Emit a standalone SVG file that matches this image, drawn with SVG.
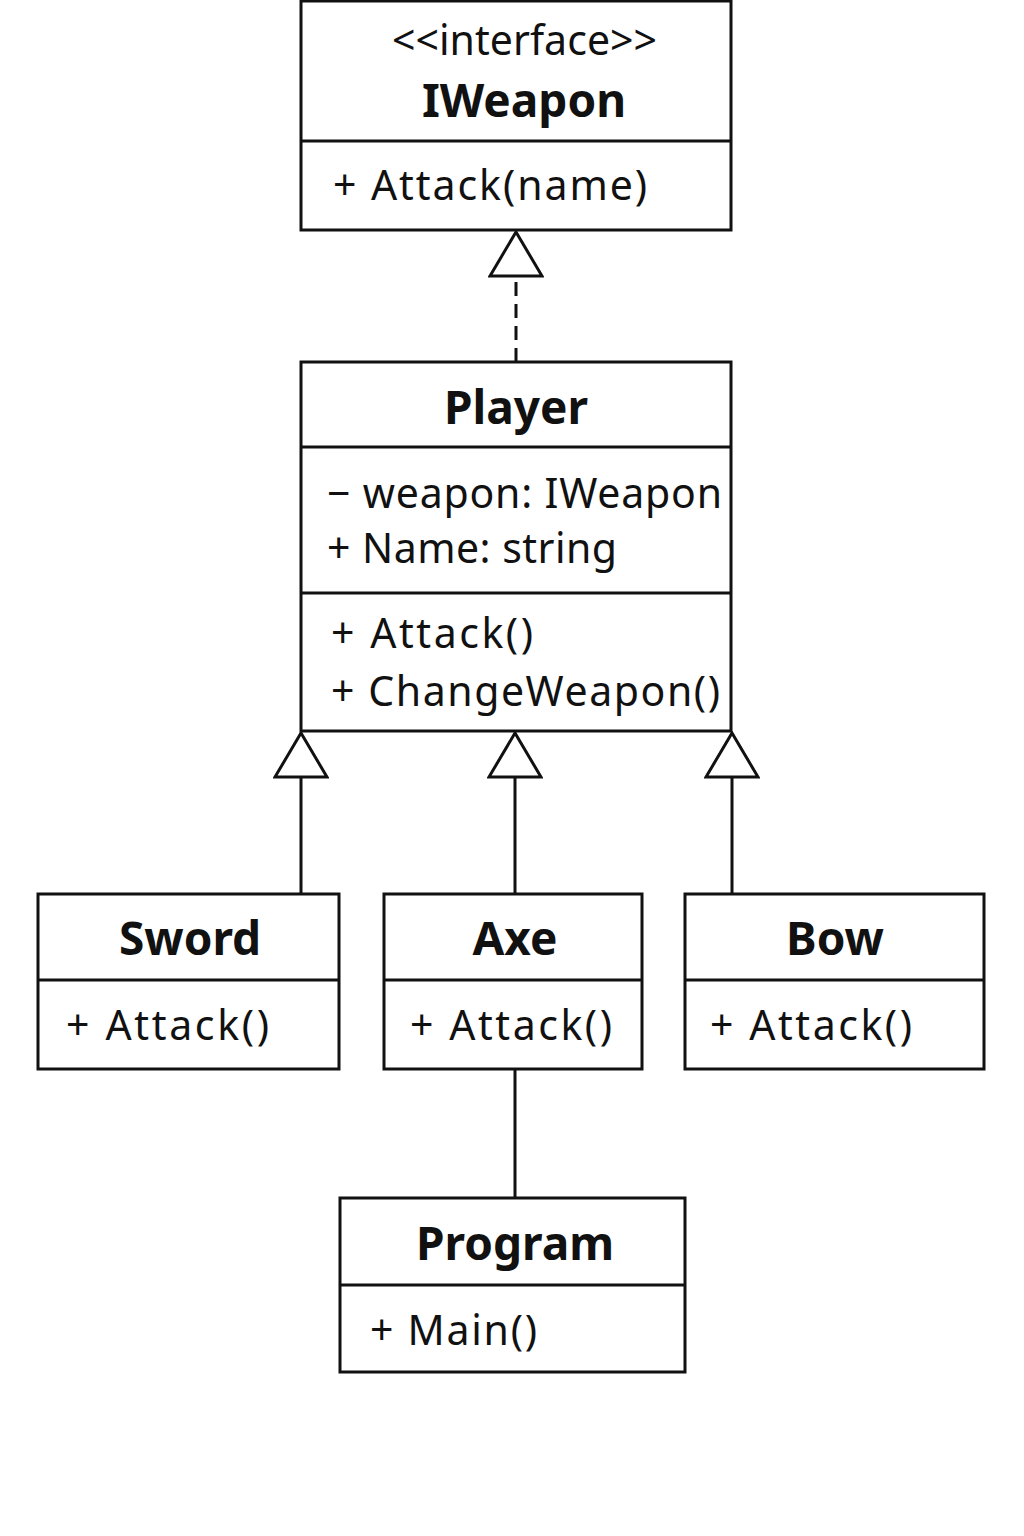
<svg xmlns="http://www.w3.org/2000/svg" width="1024" height="1536" viewBox="0 0 1024 1536">
<style>
.box{fill:#fff;stroke:#111;stroke-width:3}
.div{stroke:#111;stroke-width:3}
.t{font-family:"Noto Sans","Open Sans",sans-serif;font-size:41px;fill:#111}
.b{font-family:"Noto Sans","Open Sans",sans-serif;font-size:46px;font-weight:bold;fill:#111;text-anchor:middle}
.c{stroke:#111;stroke-width:3;fill:none}
</style>
<defs>
<marker id="tri" viewBox="0 0 48 56" refX="46" refY="28" markerWidth="48" markerHeight="56" markerUnits="userSpaceOnUse" orient="auto">
<path d="M2,2 L46,28 L2,54 Z" fill="#fff" stroke="#111" stroke-width="3"/>
</marker>
</defs>
<rect width="1024" height="1536" fill="#fff"/>
<g id="connectors">
<line class="c" x1="516" y1="362" x2="516" y2="232" stroke-dasharray="14 8" marker-end="url(#tri)"/>
<line class="c" x1="301" y1="894" x2="301" y2="733" marker-end="url(#tri)"/>
<line class="c" x1="515" y1="894" x2="515" y2="733" marker-end="url(#tri)"/>
<line class="c" x1="732" y1="894" x2="732" y2="733" marker-end="url(#tri)"/>
<line class="c" x1="515" y1="1069" x2="515" y2="1198"/>
</g>
<g id="IWeapon">
<rect class="box" x="301" y="1" width="430" height="229"/>
<line class="div" x1="301" y1="141" x2="731" y2="141"/>
<text class="t" x="392" y="55" textLength="265" lengthAdjust="spacing">&lt;&lt;interface&gt;&gt;</text>
<text class="b" x="524" y="117">IWeapon</text>
<text class="t" x="333" y="200" textLength="314" lengthAdjust="spacing">+ Attack(name)</text>
</g>
<g id="Player">
<rect class="box" x="301" y="362" width="430" height="369"/>
<line class="div" x1="301" y1="447" x2="731" y2="447"/>
<line class="div" x1="301" y1="593" x2="731" y2="593"/>
<text class="b" x="516" y="424">Player</text>
<text class="t" x="327" y="508" textLength="395" lengthAdjust="spacing">− weapon: IWeapon</text>
<text class="t" x="327" y="563" textLength="290" lengthAdjust="spacing">+ Name: string</text>
<text class="t" x="331" y="648" textLength="202" lengthAdjust="spacing">+ Attack()</text>
<text class="t" x="331" y="706" textLength="389" lengthAdjust="spacing">+ ChangeWeapon()</text>
</g>
<g id="Sword">
<rect class="box" x="38" y="894" width="301" height="175"/>
<line class="div" x1="38" y1="980" x2="339" y2="980"/>
<text class="b" x="190" y="955">Sword</text>
<text class="t" x="66" y="1040" textLength="203" lengthAdjust="spacing">+ Attack()</text>
</g>
<g id="Axe">
<rect class="box" x="384" y="894" width="258" height="175"/>
<line class="div" x1="384" y1="980" x2="642" y2="980"/>
<text class="b" x="515" y="955">Axe</text>
<text class="t" x="410" y="1040" textLength="202" lengthAdjust="spacing">+ Attack()</text>
</g>
<g id="Bow">
<rect class="box" x="685" y="894" width="299" height="175"/>
<line class="div" x1="685" y1="980" x2="984" y2="980"/>
<text class="b" x="835" y="955">Bow</text>
<text class="t" x="710" y="1040" textLength="202" lengthAdjust="spacing">+ Attack()</text>
</g>
<g id="Program">
<rect class="box" x="340" y="1198" width="345" height="174"/>
<line class="div" x1="340" y1="1285" x2="685" y2="1285"/>
<text class="b" x="515" y="1260">Program</text>
<text class="t" x="370" y="1345" textLength="167" lengthAdjust="spacing">+ Main()</text>
</g>
</svg>
